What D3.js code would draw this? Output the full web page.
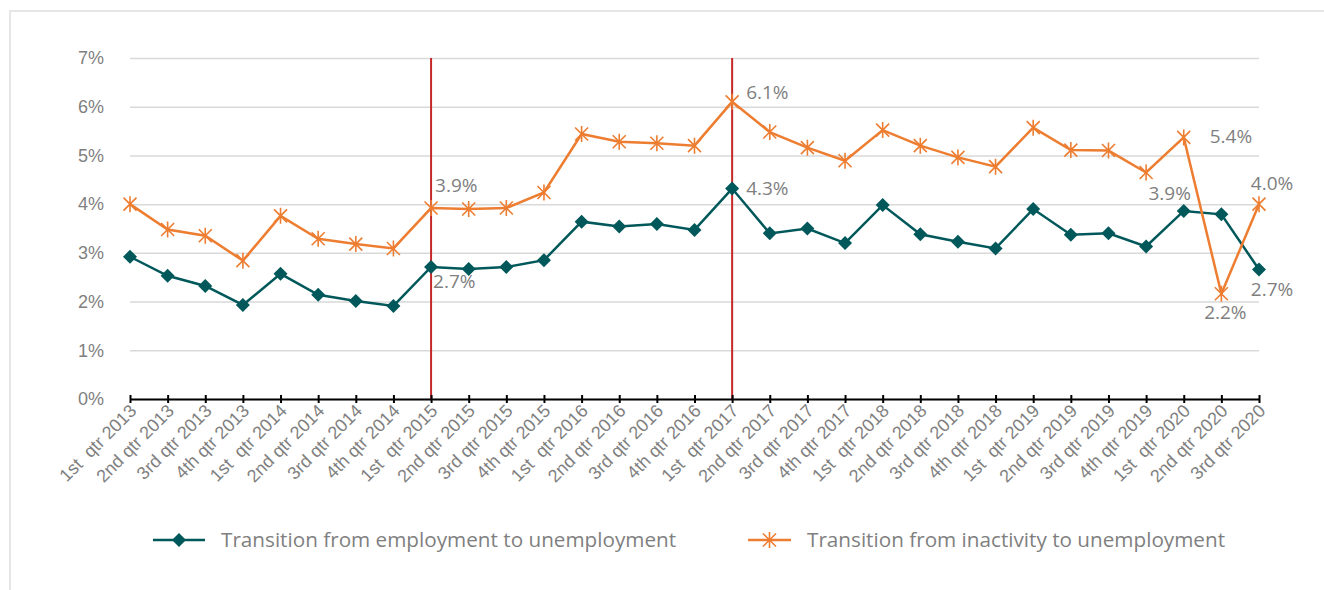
<!DOCTYPE html>
<html>
<head>
<meta charset="utf-8">
<script src="https://cdn.jsdelivr.net/npm/d3@7"></script>
<style>
  body { margin: 0; background: #fff; }
  svg { font-family: "Open Sans", sans-serif; }
  .tick text { fill: #7f7f7f; }
</style>
</head>
<body>
<svg width="1324" height="590"></svg>
<script>
let quarters = ['1st  qtr 2013', '2nd qtr 2013', '3rd qtr 2013', '4th qtr 2013',
                '1st  qtr 2014', '2nd qtr 2014', '3rd qtr 2014', '4th qtr 2014',
                '1st  qtr 2015', '2nd qtr 2015', '3rd qtr 2015', '4th qtr 2015',
                '1st  qtr 2016', '2nd qtr 2016', '3rd qtr 2016', '4th qtr 2016',
                '1st  qtr 2017', '2nd qtr 2017', '3rd qtr 2017', '4th qtr 2017',
                '1st  qtr 2018', '2nd qtr 2018', '3rd qtr 2018', '4th qtr 2018',
                '1st  qtr 2019', '2nd qtr 2019', '3rd qtr 2019', '4th qtr 2019',
                '1st  qtr 2020', '2nd qtr 2020', '3rd qtr 2020'];

// percent
let employment = [2.92, 2.53, 2.32, 1.93, 2.57, 2.14, 2.01, 1.91,
                  2.71, 2.67, 2.71, 2.85, 3.64, 3.54, 3.59, 3.47,
                  4.32, 3.40, 3.50, 3.20, 3.98, 3.38, 3.23, 3.09,
                  3.90, 3.37, 3.40, 3.13, 3.86, 3.79, 2.66];

let inactivity = [4.00, 3.48, 3.35, 2.84, 3.76, 3.29, 3.18, 3.09,
                  3.92, 3.90, 3.92, 4.24, 5.44, 5.28, 5.25, 5.20,
                  6.10, 5.48, 5.16, 4.89, 5.52, 5.20, 4.96, 4.77,
                  5.57, 5.11, 5.10, 4.65, 5.37, 2.16, 4.00];

let yTicks = [0, 1, 2, 3, 4, 5, 6, 7];
let markerQuarters = ['1st  qtr 2015', '1st  qtr 2017'];
let seriesNames = ['Transition from employment to unemployment',
                   'Transition from inactivity to unemployment'];

// which points carry a value label
let empLabels = [8, 16, 28, 30];
let inaLabels = [8, 16, 28, 29, 30];

let teal = '#00585a',
    orange = '#ed7d31',
    grey = '#7f7f7f';

let svg = d3.select('svg');

svg.append('rect')
    .attr('x', 10).attr('y', 11)
    .attr('width', 1340).attr('height', 600)
    .attr('fill', 'none')
    .attr('stroke', '#e6e6e6')
    .attr('stroke-width', 2);

let x = d3.scalePoint()
          .domain(quarters)
          .range([130, 1259]);

let y = d3.scaleLinear()
          .domain([0, 7])
          .range([399, 58]);

// gridlines + y labels
let yAxis = svg.append('g')
    .attr('transform', 'translate(130,0)')
    .call(d3.axisLeft(y)
        .tickValues(yTicks)
        .tickSize(-(1259 - 130))
        .tickPadding(26)
        .tickFormat(d => d + '%'));
yAxis.select('.domain').remove();
yAxis.selectAll('.tick line')
    .attr('stroke', '#d9d9d9')
    .attr('stroke-width', 1.5);
yAxis.selectAll('.tick text')
    .attr('font-size', 18);

// red markers
svg.append('g')
  .selectAll('line')
  .data(markerQuarters)
  .enter()
  .append('line')
    .attr('x1', d => x(d)).attr('x2', d => x(d))
    .attr('y1', y(7)).attr('y2', y(0))
    .attr('stroke', '#c62828')
    .attr('stroke-width', 2);

// x axis
let xAxis = svg.append('g')
    .attr('transform', 'translate(0,399)')
    .call(d3.axisBottom(x).tickSizeInner(4).tickSizeOuter(0));
xAxis.select('.domain').attr('stroke', '#000').attr('stroke-width', 2);
xAxis.selectAll('.tick line')
    .attr('y1', -4)
    .attr('stroke', '#000')
    .attr('stroke-width', 2);
xAxis.selectAll('.tick text')
    .attr('font-size', 18)
    .attr('text-anchor', 'end')
    .attr('dy', 0)
    .attr('y', 0)
    .attr('transform', 'translate(7,13) rotate(-45)')
    .style('white-space', 'pre');

let line = d3.line()
    .x((d, i) => x(quarters[i]))
    .y(d => y(d));

svg.append('path')
    .datum(employment)
    .attr('d', line)
    .attr('fill', 'none')
    .attr('stroke', teal)
    .attr('stroke-width', 2.5);

svg.append('path')
    .datum(inactivity)
    .attr('d', line)
    .attr('fill', 'none')
    .attr('stroke', orange)
    .attr('stroke-width', 2.5);

let diamond = 'M0,-7L7,0L0,7L-7,0Z';
let star = 'M0,-8L0,8M-6.5,-6.5L6.5,6.5M-6.5,6.5L6.5,-6.5';

svg.append('g')
  .selectAll('path')
  .data(employment)
  .enter()
  .append('path')
    .attr('d', diamond)
    .attr('transform', (d, i) => `translate(${x(quarters[i])},${y(d)})`)
    .attr('fill', teal);

svg.append('g')
  .selectAll('path')
  .data(inactivity)
  .enter()
  .append('path')
    .attr('d', star)
    .attr('transform', (d, i) => `translate(${x(quarters[i])},${y(d)})`)
    .attr('fill', 'none')
    .attr('stroke', orange)
    .attr('stroke-width', 1.6);

// value labels
let fmt = d => d3.format('.1f')(d) + '%';
let empOffset = { 8: [2, 21, 'start'], 16: [14, 6, 'start'], 28: [-14, -11, 'middle'], 30: [13, 27, 'middle'] };
let inaOffset = { 8: [4, -16, 'start'], 16: [14, -3, 'start'], 28: [26, 6, 'start'], 29: [4, 25, 'middle'], 30: [13, -14, 'middle'] };

function labels(values, idx, off) {
  svg.append('g')
    .selectAll('text')
    .data(idx)
    .enter()
    .append('text')
      .attr('x', i => x(quarters[i]) + off[i][0])
      .attr('y', i => y(values[i]) + off[i][1])
      .attr('text-anchor', i => off[i][2])
      .attr('font-size', 19)
      .attr('fill', grey)
      .text(i => fmt(values[i]));
}
labels(employment, empLabels, empOffset);
labels(inactivity, inaLabels, inaOffset);

// legend
let legend = svg.append('g').attr('transform', 'translate(0,540)');
let items = [
  { name: seriesNames[0], x0: 153, x1: 205, color: teal, mark: diamond, fill: teal },
  { name: seriesNames[1], x0: 748, x1: 791, color: orange, mark: star, fill: 'none' }
];
items.forEach(d => {
  legend.append('line')
    .attr('x1', d.x0).attr('x2', d.x1)
    .attr('stroke', d.color).attr('stroke-width', 2.5);
  legend.append('path')
    .attr('d', d.mark)
    .attr('transform', `translate(${(d.x0 + d.x1) / 2},0)`)
    .attr('fill', d.fill)
    .attr('stroke', d.fill === 'none' ? d.color : null)
    .attr('stroke-width', 1.6);
  legend.append('text')
    .attr('x', d.x1 + 16)
    .attr('y', 7)
    .attr('font-size', 20.7)
    .attr('fill', grey)
    .text(d.name);
});
</script>
</body>
</html>
